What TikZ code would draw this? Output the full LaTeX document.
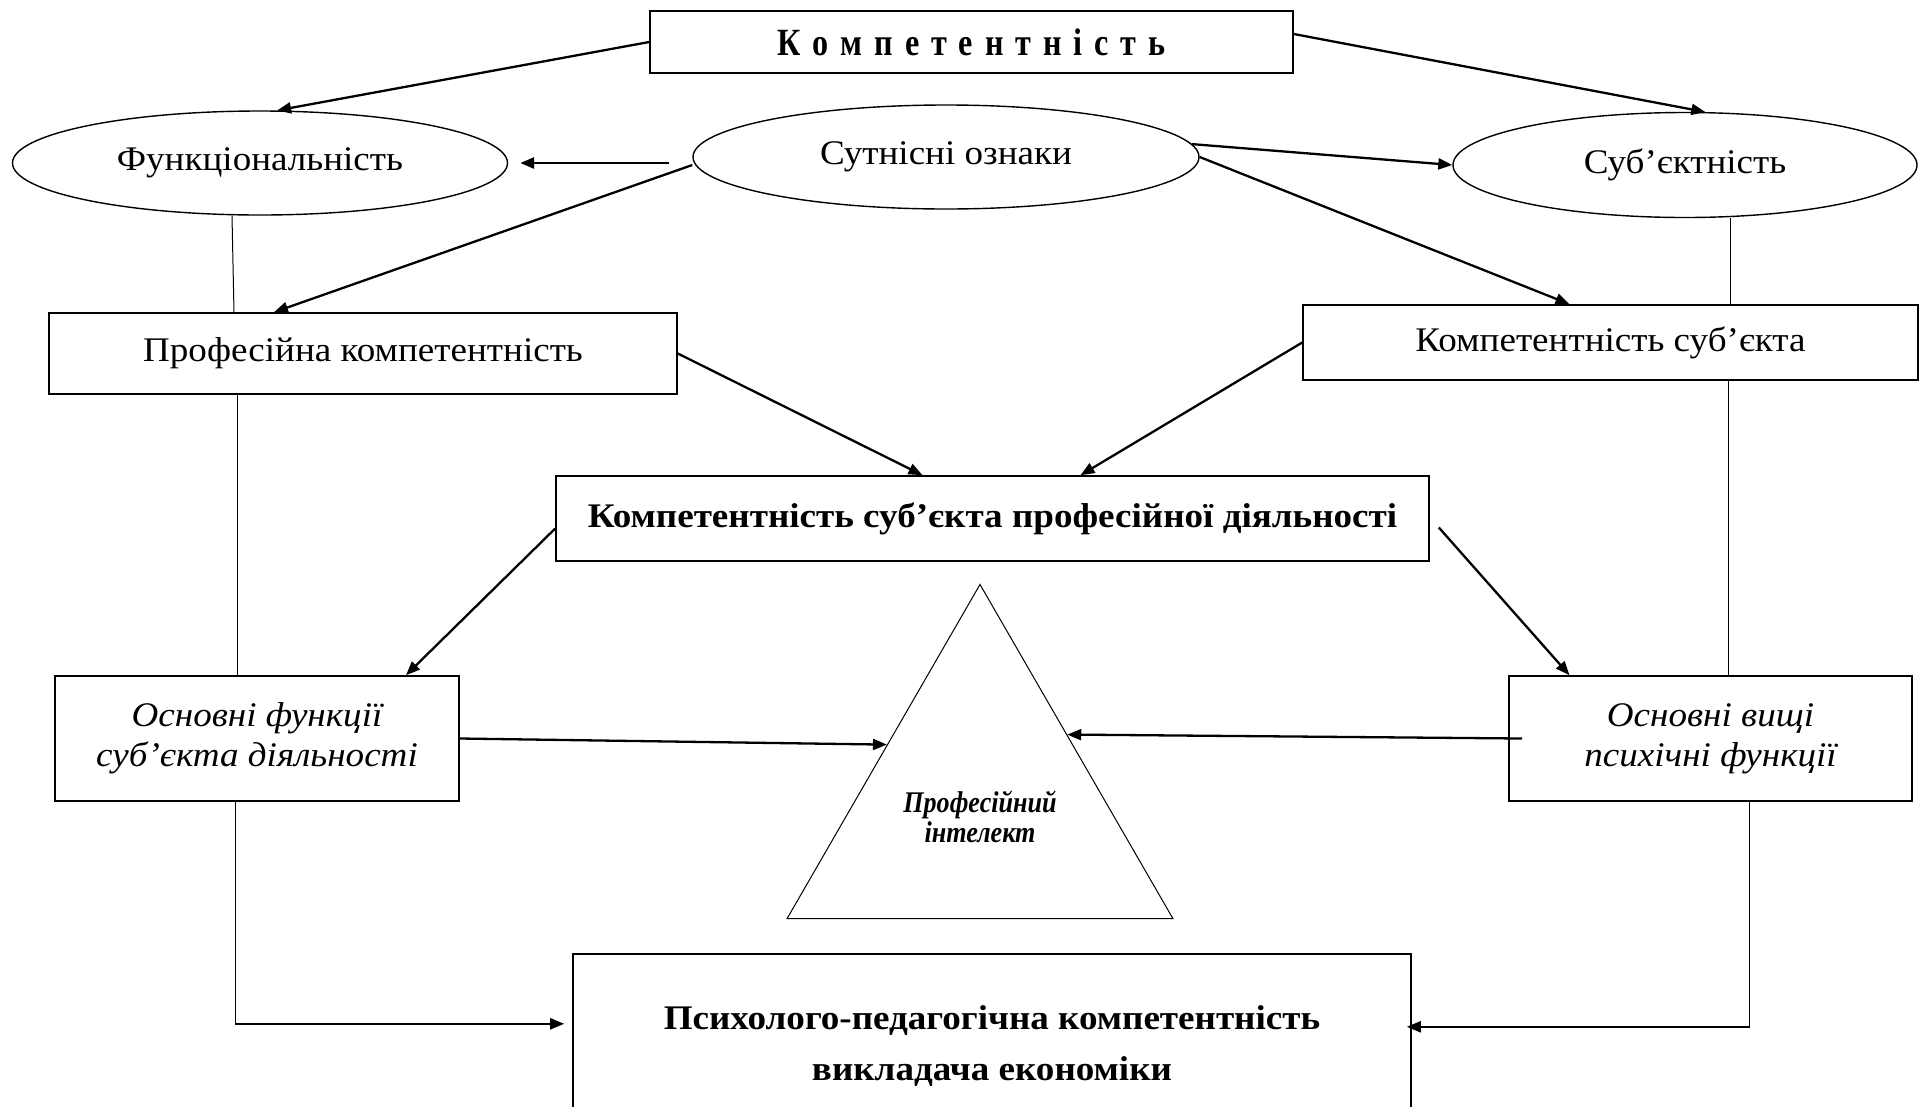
\documentclass[tikz,border=0pt]{standalone}
\usepackage{fontspec}
\setmainfont[FakeStretch=1.075]{Liberation Serif}
\usetikzlibrary{arrows.meta, positioning, calc, shapes.geometric}

\begin{document}
\begin{tikzpicture}[
  x=1pt, y=-1pt,
  box/.style = {draw, line width=1.6pt, inner sep=0pt, align=center, font=\fontsize{34.5}{40}\selectfont},
  oval/.style = {draw, ellipse, line width=1.4pt, inner sep=0pt, font=\fontsize{34.5}{40}\selectfont},
  arrow/.style = {line width=2.3pt, -{Triangle[length=14pt,width=11pt]}},
  link/.style = {line width=1pt}
]
  \clip (0,0) rectangle (1928,1106);
  \fill[white] (0,0) rectangle (1928,1106);

  % Top level
  \node[box, minimum width=643pt, minimum height=62pt, font=\bfseries\fontsize{38.5}{40}\selectfont] (komp) at (971.5,42) {\scalebox{0.777}[1]{\spaceskip=15.3pt\relax К о м п е т е н т н і с т ь}};

  % Ovals
  \node[oval, minimum width=495pt, minimum height=104pt] (func) at (260,163) {Функціональність};
  \node[oval, minimum width=506pt, minimum height=104pt] (sut) at (946,157) {Сутнісні ознаки};
  \node[oval, minimum width=464pt, minimum height=105pt] (subj) at (1685,165) {Суб’єктність};

  % Second row
  \node[box, minimum width=628pt, minimum height=81pt] (prof) at (363,353.5) {Професійна компетентність};
  \node[box, minimum width=615pt, minimum height=75pt] (ksub) at (1610.5,342.5) {Компетентність суб’єкта};

  % Centre
  \node[box, minimum width=873pt, minimum height=85pt, font=\bfseries\fontsize{34.5}{40}\selectfont] (kspd) at (992.5,518.5) {Компетентність суб’єкта професійної діяльності};

  % Functions
  \node[box, minimum width=404pt, minimum height=125pt, font=\itshape\fontsize{34.5}{40}\selectfont] (ofs) at (257,738.5) {Основні функції\\суб’єкта діяльності};
  \node[box, minimum width=403pt, minimum height=125pt, font=\itshape\fontsize{34.5}{40}\selectfont] (ovf) at (1710.5,738.5) {Основні вищі\\психічні функції};

  % Triangle
  \node[draw, regular polygon, regular polygon sides=3, minimum size=445.7pt, inner sep=0pt, line width=1pt] (tri) at (980,807.3) {};
  \node[font=\bfseries\itshape\fontsize{30}{30}\selectfont, align=center] (tri-text) at (980,817) {\scalebox{0.81}[1]{Професійний}\\\scalebox{0.81}[1]{інтелект}};

  % Bottom
  \node[box, minimum width=838pt, minimum height=184pt, font=\bfseries\fontsize{34.5}{51}\selectfont] (ppk) at (992,1046) {Психолого-педагогічна компетентність\\викладача економіки};

  % Arrows
  \draw[arrow] (komp.west) -- (func.72);
  \draw[arrow] ([yshift=8pt]komp.east) -- (subj.69);
  \draw[arrow, line width=2.8pt] ([xshift=-23pt,yshift=-6pt]sut.west) -- ([xshift=12pt]func.east);
  \draw[arrow] ([yshift=-8pt]sut.west) -- ([xshift=-89pt]prof.north);
  \draw[arrow] (sut.3) -- (subj.west);
  \draw[arrow] (sut.east) -- ([xshift=-41pt]ksub.north);
  \draw[link] ([xshift=-28pt]func.south) -- ([xshift=-129pt]prof.north);
  \draw[link] ([xshift=45pt]subj.south) -- ([xshift=45pt]subj.south |- ksub.north);
  \draw[arrow] (prof.east) -- ([xshift=-70pt]kspd.north);
  \draw[arrow] (ksub.west) -- ([xshift=88pt]kspd.north);
  \draw[arrow] ([yshift=-10pt]kspd.west) -- ([xshift=149pt]ofs.north);
  \draw[arrow] ([xshift=9pt,yshift=-9pt]kspd.east) -- ([xshift=-141pt]ovf.north);
  \draw[link] ([xshift=-126pt]prof.south) -- ([xshift=-126pt]prof.south |- ofs.north);
  \draw[link] ([xshift=118pt]ksub.south) -- ([xshift=118pt]ksub.south |- ovf.north);
  \draw[arrow] (ofs.east) -- ($(tri.corner 1)!0.48!(tri.corner 2)$);
  \draw[arrow] ([xshift=14pt]ovf.west) -- ($(tri.corner 1)!0.45!(tri.corner 3)$);
  \draw[link] ([xshift=-22pt]ofs.south) -- ++(0,222) coordinate (cl);
  \draw[arrow, shorten >=8pt] (cl) -- (cl -| ppk.west);
  \draw[link] ([xshift=39pt]ovf.south) -- ++(0,225) coordinate (cr);
  \draw[arrow, shorten >=-5pt] (cr) -- (cr -| ppk.east);
\end{tikzpicture}
\end{document}
